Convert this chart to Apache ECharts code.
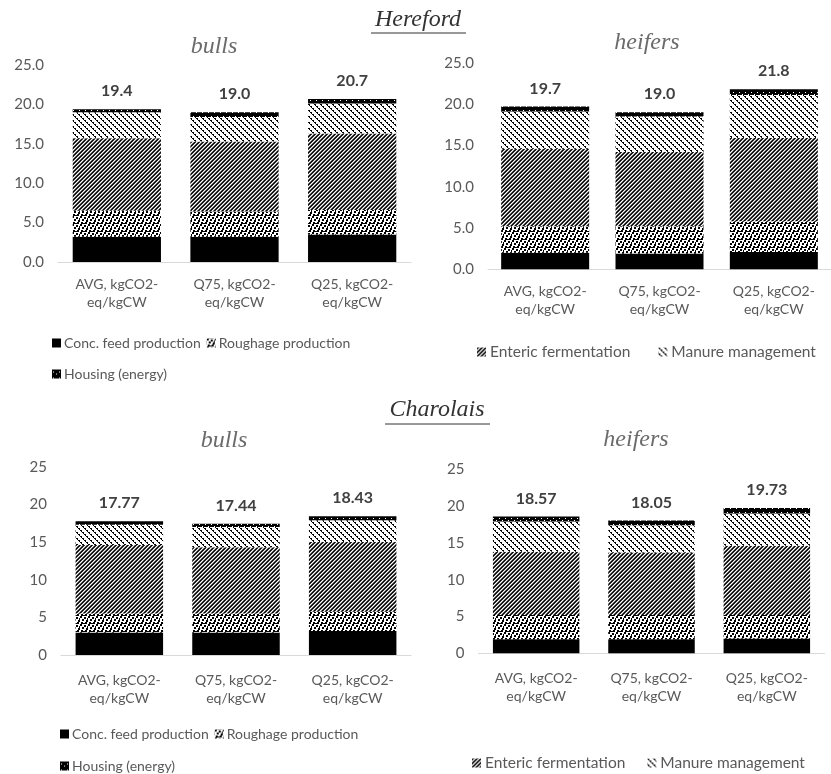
<!DOCTYPE html>
<html>
<head>
<meta charset="utf-8">
<script src="https://cdn.jsdelivr.net/npm/echarts@6/dist/echarts.min.js"></script>
<style>html,body{margin:0;padding:0;background:#fff}#c{width:831px;height:774px}</style>
</head>
<body>
<div id="c"></div>
<script>
// ---------- data ----------
const categories = ['AVG, kgCO2-\neq/kgCW', 'Q75, kgCO2-\neq/kgCW', 'Q25, kgCO2-\neq/kgCW'];
const seriesNames = ['Conc. feed production', 'Roughage production', 'Enteric fermentation', 'Manure management', 'Housing (energy)'];
const topTicks = [0, 5, 10, 15, 20, 25];

// Hereford bulls
const hbConc = [3.2, 3.2, 3.5];
const hbRough = [3.3, 3.2, 3.1];
const hbEnteric = [9.2, 8.9, 9.7];
const hbManure = [3.3, 3.1, 3.8];
const hbHousing = [0.4, 0.6, 0.6];
const hbTotal = [19.4, 19.0, 20.7];
// Hereford heifers
const hhConc = [2.0, 1.9, 2.1];
const hhRough = [3.2, 3.3, 3.7];
const hhEnteric = [9.4, 9.0, 10.1];
const hhManure = [4.5, 4.3, 5.2];
const hhHousing = [0.6, 0.5, 0.7];
const hhTotal = [19.7, 19.0, 21.8];
// Charolais bulls
const cbConc = [3.0, 3.0, 3.2];
const cbRough = [2.5, 2.5, 2.55];
const cbEnteric = [9.1, 8.8, 9.25];
const cbManure = [2.7, 2.7, 2.9];
const cbHousing = [0.47, 0.44, 0.53];
const cbTotal = [17.77, 17.44, 18.43];
// Charolais heifers
const chConc = [1.9, 1.9, 2.0];
const chRough = [3.3, 3.3, 3.2];
const chEnteric = [8.6, 8.5, 9.4];
const chManure = [4.1, 3.7, 4.4];
const chHousing = [0.67, 0.65, 0.73];
const chTotal = [18.57, 18.05, 19.73];

// ---------- patterns ----------
function makePattern(size, draw) {
  const c = document.createElement('canvas');
  c.width = size; c.height = size;
  const ctx = c.getContext('2d');
  draw(ctx, size);
  return { image: c, repeat: 'repeat' };
}
const patConc = '#000000';
const patRough = makePattern(8, (ctx) => {
  ctx.fillStyle = '#fff'; ctx.fillRect(0, 0, 8, 8);
  ctx.fillStyle = '#000';
  [[0,0],[4,1],[2,3],[6,4],[1,6],[5,6],[3,7],[7,2]].forEach(p => ctx.fillRect(p[0], p[1], 2, 2));
});
const patEnteric = makePattern(4, (ctx) => {
  const cols = ['#000000', '#3c3c3c', '#ffffff', '#8c8c8c'];
  for (let x = 0; x < 4; x++) for (let y = 0; y < 4; y++) {
    ctx.fillStyle = cols[(x + y) % 4];
    ctx.fillRect(x, y, 1, 1);
  }
});
const patManure = makePattern(6, (ctx) => {
  ctx.fillStyle = '#fff'; ctx.fillRect(0, 0, 6, 6);
  ctx.fillStyle = '#000';
  for (let x = 0; x < 6; x++) for (let y = 0; y < 6; y++) {
    const k = ((x - y) % 6 + 6) % 6;
    if (k === 0 || (k === 1 && y % 2 === 0)) ctx.fillRect(x, y, 1, 1);
  }
});
const patHousing = makePattern(6, (ctx) => {
  ctx.fillStyle = '#000'; ctx.fillRect(0, 0, 6, 6);
  ctx.fillStyle = '#fff';
  ctx.fillRect(1, 2, 1, 1); ctx.fillRect(4, 4, 1, 1);
});
const patterns = [patConc, patRough, patEnteric, patManure, patHousing];

// ---------- layout ----------
const panels = [
  { data: [hbConc, hbRough, hbEnteric, hbManure, hbHousing], total: hbTotal, dec: 1, grid: { left: 58, width: 353, top: 65, height: 197 }, margin: 13 },
  { data: [hhConc, hhRough, hhEnteric, hhManure, hhHousing], total: hhTotal, dec: 1, grid: { left: 488, width: 353, top: 62.7, height: 206.6 }, margin: 13 },
  { data: [cbConc, cbRough, cbEnteric, cbManure, cbHousing], total: cbTotal, dec: 2, grid: { left: 61, width: 350, top: 466.7, height: 188.3 }, margin: 16 },
  { data: [chConc, chRough, chEnteric, chManure, chHousing], total: chTotal, dec: 2, grid: { left: 478.5, width: 346, top: 469.3, height: 184 }, margin: 16 }
];
const FONT = 'Lato, "Open Sans", sans-serif';
const grids = [], xAxes = [], yAxes = [], series = [];
panels.forEach((p, i) => {
  grids.push(p.grid);
  xAxes.push({
    type: 'category', gridIndex: i, data: categories,
    axisLine: { lineStyle: { color: '#d9d9d9', width: 1 } },
    axisTick: { show: false },
    axisLabel: { interval: 0, color: '#595959', fontSize: 14, lineHeight: 18, margin: p.margin, fontFamily: FONT }
  });
  yAxes.push({
    type: 'value', gridIndex: i, min: topTicks[0], max: topTicks[topTicks.length - 1], interval: 5,
    axisLine: { show: false }, axisTick: { show: false }, splitLine: { show: false },
    axisLabel: { color: '#595959', fontSize: 15, margin: 14, fontFamily: FONT,
      formatter: v => p.dec === 1 ? v.toFixed(1) : String(v) }
  });
  p.data.forEach((vals, s) => {
    const ser = {
      name: seriesNames[s], type: 'bar', stack: 'st' + i, xAxisIndex: i, yAxisIndex: i,
      data: vals, barCategoryGap: '25%',
      itemStyle: { color: patterns[s] },
      emphasis: { disabled: true }
    };
    if (i === 1) ser.barWidth = 88;
    if (s === 4) {
      ser.label = {
        show: true, position: 'top', distance: 10,
        fontSize: 16, fontWeight: 'bold', color: '#404040', fontFamily: FONT,
        formatter: prm => p.total[prm.dataIndex].toFixed(p.dec)
      };
    }
    series.push(ser);
  });
});

const legendBase = {
  orient: 'horizontal', itemWidth: 9, itemHeight: 9, padding: 0, selectedMode: false, icon: 'rect',
  textStyle: { color: '#595959', fontSize: 14, fontFamily: FONT, padding: [0, 0, 0, -2] }
};
const rightText = { color: '#595959', fontSize: 15.5, fontFamily: FONT, padding: [0, 0, 0, -1] };
const legends = [
  Object.assign({}, legendBase, { data: [seriesNames[0], seriesNames[1]], left: 52, top: 336, itemGap: 6 }),
  Object.assign({}, legendBase, { data: [seriesNames[4]], left: 52, top: 367 }),
  Object.assign({}, legendBase, { data: [seriesNames[2], seriesNames[3]], left: 477, top: 344, itemGap: 28, textStyle: rightText }),
  Object.assign({}, legendBase, { data: [seriesNames[0], seriesNames[1]], left: 60, top: 727, itemGap: 6 }),
  Object.assign({}, legendBase, { data: [seriesNames[4]], left: 60, top: 759 }),
  Object.assign({}, legendBase, { data: [seriesNames[2], seriesNames[3]], left: 472, top: 755, itemGap: 22, textStyle: rightText })
];

const serif = '"Liberation Serif", "DejaVu Serif", serif';
function titleText(t, x, y, color) {
  return { type: 'text', x: x, y: y, style: { text: t, font: 'italic 24px ' + serif, fill: color, textAlign: 'center', textVerticalAlign: 'middle' } };
}
const graphics = [
  titleText('Hereford', 418, 20, '#333333'),
  { type: 'line', shape: { x1: 371, y1: 33, x2: 466, y2: 33 }, style: { stroke: '#333333', lineWidth: 1 } },
  titleText('bulls', 214, 47, '#6b6b6b'),
  titleText('heifers', 647, 43, '#6b6b6b'),
  titleText('Charolais', 437, 410, '#333333'),
  { type: 'line', shape: { x1: 385, y1: 424, x2: 490, y2: 424 }, style: { stroke: '#333333', lineWidth: 1 } },
  titleText('bulls', 224, 441, '#6b6b6b'),
  titleText('heifers', 636, 440, '#6b6b6b')
];

const chart = echarts.init(document.getElementById('c'), null, { renderer: 'canvas' });
chart.setOption({
  animation: false,
  backgroundColor: '#ffffff',
  grid: grids, xAxis: xAxes, yAxis: yAxes, series: series,
  legend: legends, graphic: graphics
});
</script>
</body>
</html>
